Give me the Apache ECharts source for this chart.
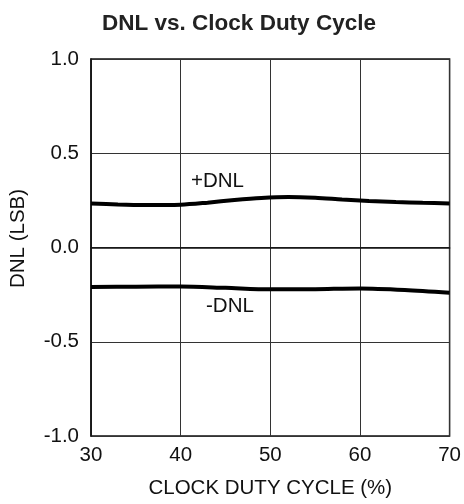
<!DOCTYPE html>
<html><head><meta charset="utf-8">
<script src="https://cdn.jsdelivr.net/npm/echarts@6/dist/echarts.min.js"></script>
<style>html,body{margin:0;padding:0;background:#fff}#c{width:464px;height:504px}</style>
</head><body><div id="c"></div>
<script>
var dutyCycle = [30, 33, 36, 40, 43, 46, 49, 52, 55, 58, 61, 64, 67, 70];
var dnlPos = [0.234, 0.228, 0.225, 0.227, 0.238, 0.252, 0.263, 0.268, 0.264, 0.255, 0.247, 0.241, 0.237, 0.234];
var dutyCycleNeg = [30, 35, 40, 45, 50, 55, 60, 65, 70];
var dnlNeg = [-0.21, -0.208, -0.207, -0.214, -0.222, -0.221, -0.217, -0.225, -0.24];
var xTicks = [30, 40, 50, 60, 70];
var yTicks = [-1.0, -0.5, 0.0, 0.5, 1.0];
var labelPos = {text: '+DNL', x: 44.1, y: 0.353};
var labelNeg = {text: '-DNL', x: 45.5, y: -0.31};

var font = 'Liberation Sans, Arial, Helvetica, sans-serif';
var chart = echarts.init(document.getElementById('c'), null, {renderer: 'canvas'});
function pairs(xs, ys){ return xs.map(function(x,i){ return [x, ys[i]]; }); }
chart.setOption({
  animation: false,
  title: {
    text: 'DNL vs. Clock Duty Cycle', left: 234, top: 7, textAlign: 'center',
    textStyle: {fontFamily: font, fontSize: 22.5, fontWeight: 'bold', color: '#222'}
  },
  grid: {left: 88, right: 13, top: 59, bottom: 68, show: true, borderColor: '#111', borderWidth: 1.5, containLabel: false},
  xAxis: {
    type: 'value', min: xTicks[0], max: xTicks[xTicks.length-1], interval: 10,
    name: 'CLOCK DUTY CYCLE (%)', nameLocation: 'middle', nameGap: 42,
    nameTextStyle: {fontFamily: font, fontSize: 20.5, color: '#111'},
    axisLine: {show: true, lineStyle: {color: '#111', width: 1.5}},
    axisTick: {show: false},
    axisLabel: {fontFamily: font, fontSize: 20.5, color: '#111', margin: 9},
    splitLine: {show: true, lineStyle: {color: '#333', width: 1}}
  },
  yAxis: {
    type: 'value', min: yTicks[0], max: yTicks[yTicks.length-1], interval: 0.5,
    name: 'DNL (LSB)', nameLocation: 'middle', nameGap: 62, nameRotate: 90,
    nameTextStyle: {fontFamily: font, fontSize: 20.5, color: '#111', padding: [0, 0, 0, 18]},
    axisLine: {show: true, lineStyle: {color: '#111', width: 1.5}},
    axisTick: {show: false},
    axisLabel: {fontFamily: font, fontSize: 20.5, color: '#111', margin: 12,
      formatter: function(v){ return v.toFixed(1); }},
    splitLine: {show: true, lineStyle: {color: '#333', width: 1}}
  },
  series: [
    {
      type: 'line', name: '+DNL', data: pairs(dutyCycle, dnlPos), smooth: 0.3,
      showSymbol: false, lineStyle: {color: '#000', width: 4}, z: 5,
      markPoint: {symbol: 'circle', symbolSize: 0, silent: true,
        data: [{coord: [labelPos.x, labelPos.y], label: {show: true, formatter: labelPos.text, position: 'inside',
          fontFamily: font, fontSize: 20.5, color: '#111'}}]}
    },
    {
      type: 'line', name: '-DNL', data: pairs(dutyCycleNeg, dnlNeg), smooth: 0.3,
      showSymbol: false, lineStyle: {color: '#000', width: 4}, z: 5,
      markPoint: {symbol: 'circle', symbolSize: 0, silent: true,
        data: [{coord: [labelNeg.x, labelNeg.y], label: {show: true, formatter: labelNeg.text, position: 'inside',
          fontFamily: font, fontSize: 20.5, color: '#111'}}]}
    }
  ]
});
</script>
</body></html>
